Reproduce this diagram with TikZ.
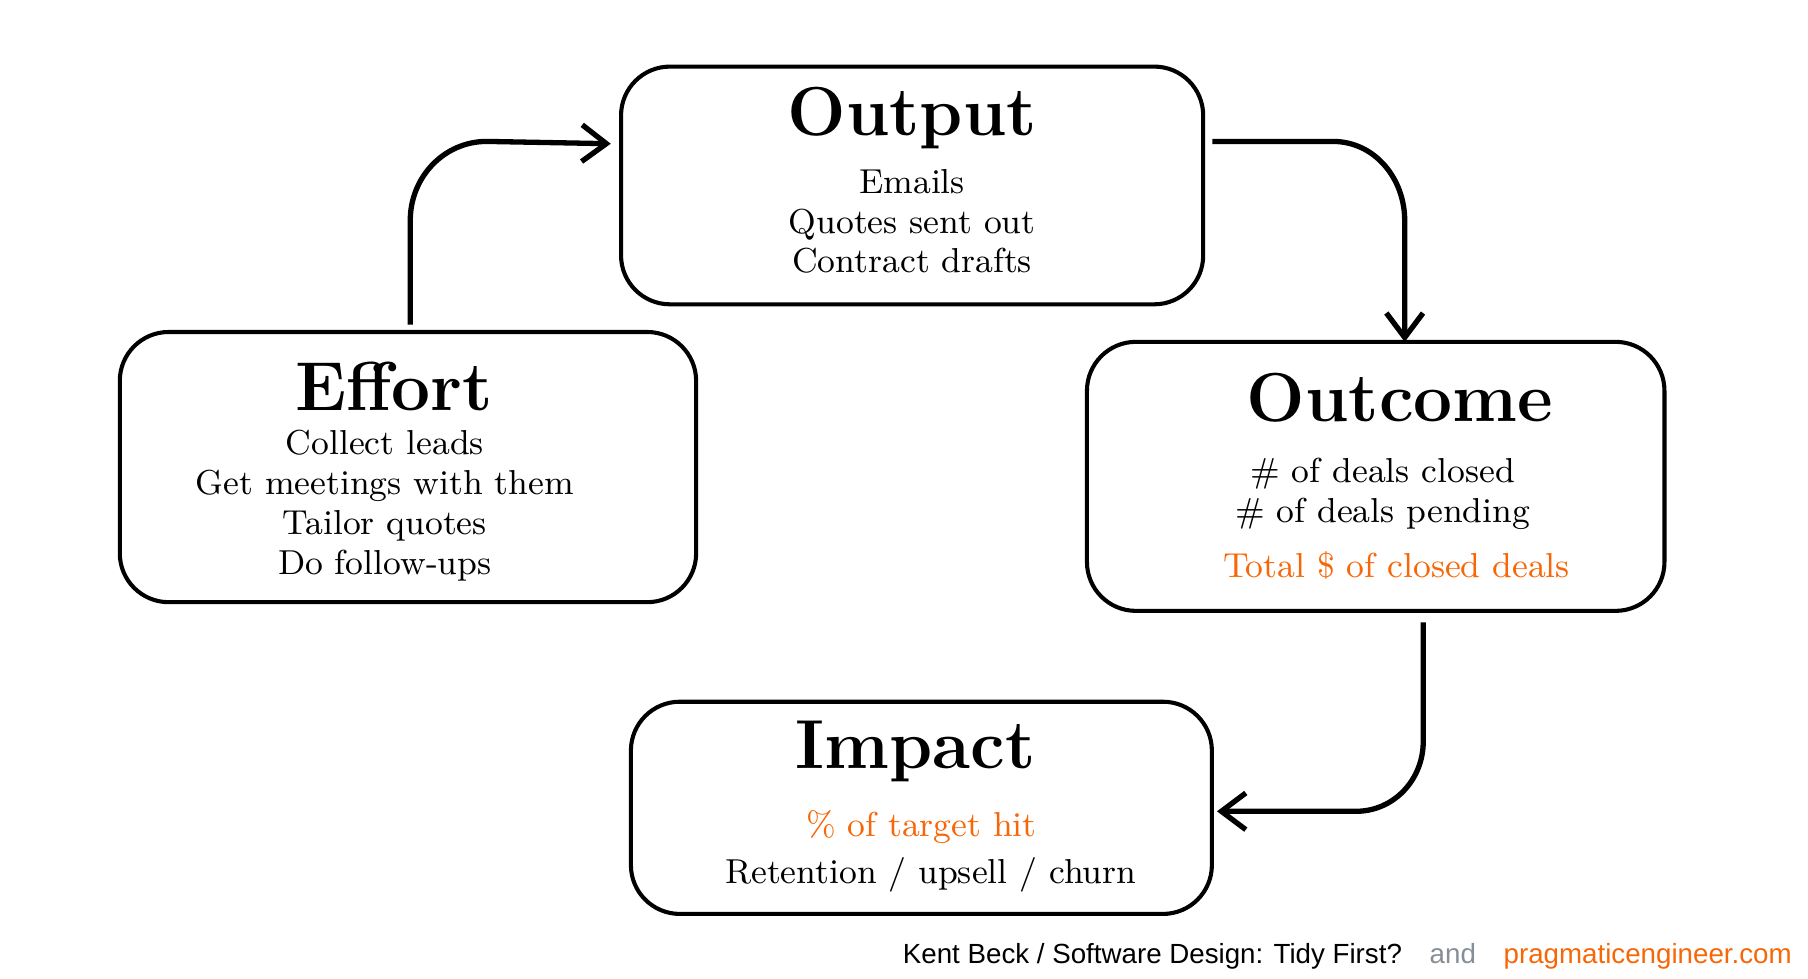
\documentclass[tikz,border=0pt]{standalone}
\usepackage{fontspec}
\setsansfont{Liberation Sans}
\usetikzlibrary{arrows.meta}
\definecolor{orng}{HTML}{F76707}
\definecolor{grey}{HTML}{868E96}

\begin{document}
\begin{tikzpicture}[x=0.01cm,y=-0.01cm,semithick,
  box/.style={draw,line width=1pt,rounded corners=12pt,inner sep=0pt},
  title/.style={font=\fontsize{17}{19}\selectfont\bfseries},
  body/.style={font=\fontsize{8.5}{9.8}\selectfont,align=center},
  flow/.style={-{Straight Barb[length=6pt,width=9pt]},line width=1.3pt}]
  \useasboundingbox (0,0) rectangle (1560,844);

  \node[box,minimum width=5.02cm,minimum height=2.05cm] (output) at (787,160) {};
  \node[box,minimum width=4.97cm,minimum height=2.33cm] (effort) at (352,403) {};
  \node[box,minimum width=4.98cm,minimum height=2.32cm] (outcome) at (1187,411) {};
  \node[box,minimum width=5.01cm,minimum height=1.83cm] (impact) at (795,697) {};

  \node[title] (outputT) at (787,102) {Output};
  \node[body] (outputB) at (787,191) {Emails\\Quotes sent out\\Contract drafts};
  \node[title] (effortT) at (340,333) {Effort};
  \node[body] (effortB) at (332,436) {Collect leads\\Get meetings with them\\Tailor quotes\\Do follow-ups};
  \node[title] (outcomeT) at (1208,343) {Outcome};
  \node[body] (outcomeB) at (1193,426) {\# of deals closed\\\# of deals pending};
  \node[body,text=orng] (outcomeC) at (1205,488) {Total \$ of closed deals};
  \node[title] (impactT) at (790,648) {Impact};
  \node[body,text=orng] (impactB) at (795,714) {\% of target hit};
  \node[body] (impactC) at (803,755) {Retention / upsell / churn};

  \node[anchor=east,font=\sffamily\fontsize{6.8}{8}\selectfont,inner sep=0pt] (credit) at (1547,825)
    {Kent Beck / Software Design: Tidy First?\quad\textcolor{grey}{and}\quad\textcolor{orng}{pragmaticengineer.com}};

  \coordinate (e1) at (354,280);
  \coordinate (o1) at (1046,122);
  \coordinate (c1) at (1228,537);
  \draw[flow] (e1) -- (354,190) to[out=90,in=180] (420,122) -- (527,124);
  \draw[flow] (o1) -- (1150,122) to[out=0,in=90] (1212,190) -- (1212,295);
  \draw[flow] (c1) -- (1228,640) to[out=-90,in=0] (1170,700) -- (1050,700);
\end{tikzpicture}
\end{document}
